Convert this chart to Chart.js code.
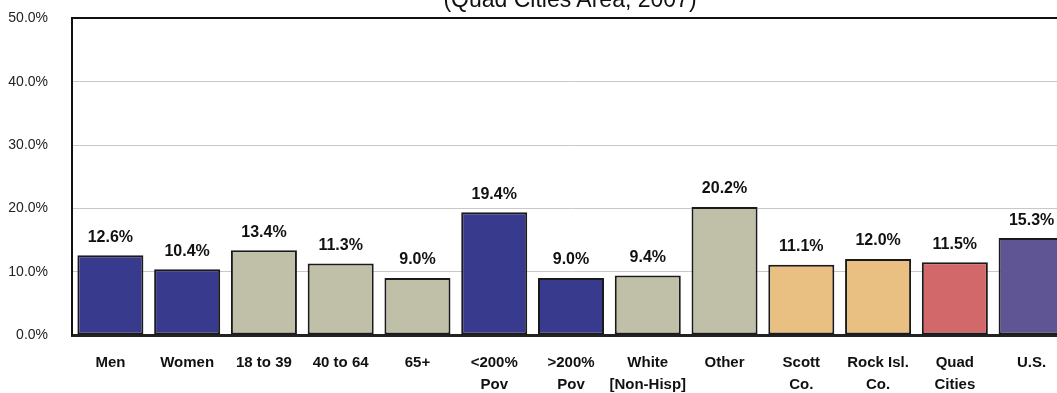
<!DOCTYPE html>
<html>
<head>
<meta charset="utf-8">
<script src="https://cdn.jsdelivr.net/npm/chart.js@4.4.1/dist/chart.umd.min.js"></script>
<style>
  body { margin: 0; background: #fff; }
  #wrap { position: relative; width: 1057px; height: 393px; overflow: hidden; }
  #chart { position: absolute; left: 0; top: -14px; }
  #title { position: absolute; left: 0; width: 1140px; top: -12px; text-align: center;
           font: 23px "Liberation Sans", Arial, sans-serif; color: #111; line-height: 1; white-space: nowrap; }
</style>
</head>
<body>
<div id="wrap">
  <canvas id="chart" width="1120" height="407"></canvas>
  <div id="title">(Quad Cities Area, 2007)</div>
</div>
<script>
// categories (multi-line labels)
const categories = [
    'Men', 'Women', '18 to 39', '40 to 64', '65+',
    ['<200%', 'Pov'], ['>200%', 'Pov'], ['White', '[Non-Hisp]'], 'Other',
    ['Scott', 'Co.'], ['Rock Isl.', 'Co.'], ['Quad', 'Cities'], 'U.S.'
];
const values = [12.6, 10.4, 13.4, 11.3, 9.0, 19.4, 9.0, 9.4, 20.2, 11.1, 12.0, 11.5, 15.3];
const barColors = [
    '#383a8e', '#383a8e', '#c0c0a8', '#c0c0a8', '#c0c0a8',
    '#383a8e', '#383a8e', '#c0c0a8', '#c0c0a8',
    '#e9bf82', '#e9bf82', '#d3686a', '#5f5594'
];

const FONT = '"Liberation Sans", Arial, sans-serif';

// valeurs au-dessus des barres
const valueLabels = {
    id: 'valueLabels',
    afterDatasetsDraw(chart) {
        const ctx = chart.ctx;
        const meta = chart.getDatasetMeta(0);
        ctx.save();
        ctx.font = 'bold 16px ' + FONT;
        ctx.fillStyle = '#111';
        ctx.textAlign = 'center';
        ctx.textBaseline = 'bottom';
        meta.data.forEach((bar, i) => {
            ctx.fillText(values[i].toFixed(1) + '%', bar.x, bar.y - 10);
        });
        ctx.restore();
    }
};

var ctx = document.getElementById('chart').getContext('2d');
var myChart = new Chart(ctx, {
    type: 'bar',
    data: {
        labels: categories,
        datasets: [{
            data: values,
            backgroundColor: barColors,
            borderColor: '#1a1a1a',
            borderWidth: 2,
            borderSkipped: false,
            categoryPercentage: 1,
            barPercentage: 0.86
        }]
    },
    options: {
        responsive: false,
        animation: false,
        layout: { padding: { top: 4, right: 50, left: 0, bottom: 0 } },
        plugins: {
            legend: { display: false },
            tooltip: { enabled: false },
            title: { display: false }
        },
        scales: {
            x: {
                grid: { display: false },
                border: { display: true, color: '#222', width: 3 },
                ticks: {
                    color: '#111',
                    padding: 9,
                    maxRotation: 0,
                    autoSkip: false,
                    font: { family: FONT, size: 15, weight: 'bold', lineHeight: 1.45 }
                },
                afterFit: s => { s.height = 58; }
            },
            y: {
                min: 0,
                max: 50,
                ticks: {
                    stepSize: 10,
                    padding: 24,
                    color: '#222',
                    font: { family: FONT, size: 14 },
                    callback: v => v.toFixed(1) + '%'
                },
                grid: {
                    drawTicks: false,
                    color: c => c.tick.value === 50 ? '#111' : (c.tick.value === 0 ? 'rgba(0,0,0,0)' : '#c8c8c8'),
                    lineWidth: c => c.tick.value === 50 ? 2 : 1
                },
                border: { display: true, color: '#111', width: 2 },
                afterFit: s => { s.width = 72; }
            }
        }
    },
    plugins: [valueLabels]
});
</script>
</body>
</html>
